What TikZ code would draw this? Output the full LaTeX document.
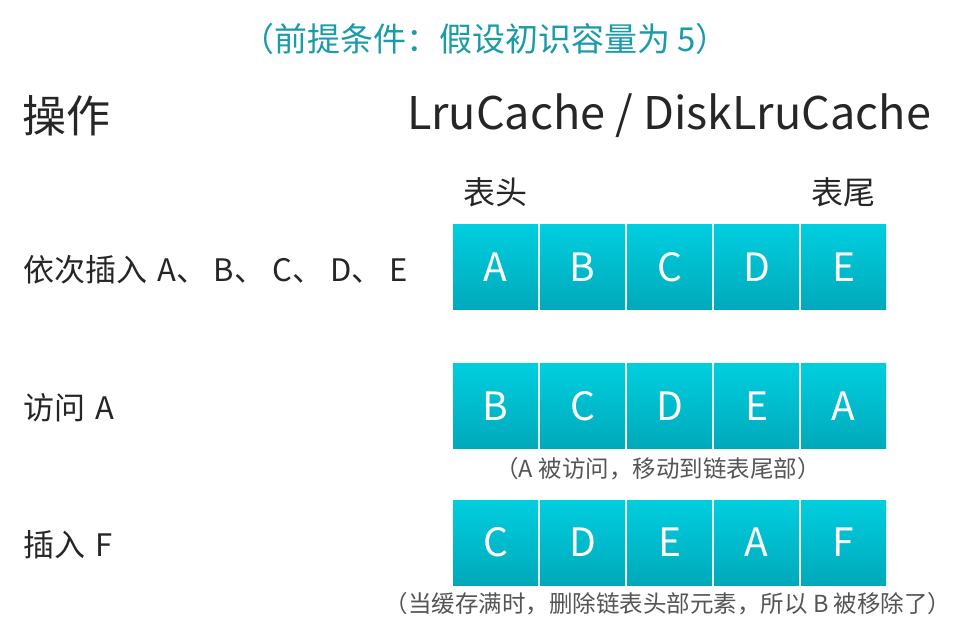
\documentclass[tikz,border=0pt]{standalone}
\usepackage{fontspec}
\setmainfont{Noto Sans CJK SC}
\usetikzlibrary{positioning}
\definecolor{titlecol}{HTML}{1A9BA8}
\definecolor{txt}{HTML}{262626}
\definecolor{cap}{HTML}{555555}
\definecolor{boxtop}{HTML}{00CEDF}
\definecolor{boxbot}{HTML}{00A9BA}
\begin{document}
\begin{tikzpicture}[x=1pt,y=-1pt,
  cell/.style={minimum width=85pt,minimum height=85pt,inner sep=0pt,top color=boxtop,bottom color=boxbot,draw=none,text=white,font=\fontsize{39}{41}\selectfont},
  lbl/.style={anchor=west,inner sep=0pt,text=txt,font=\fontsize{31}{34}\selectfont},
  capt/.style={inner sep=0pt,text=cap,font=\fontsize{23.5}{26}\selectfont}]
\useasboundingbox (0,0) rectangle (970,644);
\fill[white] (0,0) rectangle (970,644);
\node[inner sep=0pt,text=titlecol,font=\fontsize{33}{36}\selectfont] (title) at (485,39) {（前提条件：假设初识容量为 5）};
\node[lbl,font=\fontsize{44}{47}\selectfont] (op) at (22,116) {操作};
\node[inner sep=0pt,text=txt,font=\fontsize{45}{48}\selectfont] (hdr) at (669,116) {LruCache / DiskLruCache};
\node[inner sep=0pt,text=txt,font=\fontsize{32}{35}\selectfont] (head) at (495,192) {表头};
\node[inner sep=0pt,text=txt,font=\fontsize{32}{35}\selectfont] (tail) at (843,192) {表尾};
\node[lbl] (l1) at (23,270) {依次插入\hspace{10pt}A、 B、 C、 D、 E};
\node[lbl] (l2) at (23,408) {访问\hspace{10pt}A};
\node[lbl] (l3) at (23,545) {插入\hspace{10pt}F};
% row 1
\foreach \t [count=\i] in {A,B,C,D,E}{
  \node[cell] (r1c\i) at (495.5+87*\i-87,267.5) {\t};}
\foreach \t [count=\i] in {B,C,D,E,A}{
  \node[cell] (r2c\i) at (495.5+87*\i-87,406.5) {\t};}
\foreach \t [count=\i] in {C,D,E,A,F}{
  \node[cell] (r3c\i) at (495.5+87*\i-87,542.5) {\t};}
\node[capt] (c1) at (658,469) {（A 被访问，移动到链表尾部）};
\node[capt] (c2) at (668,604) {（当缓存满时，删除链表头部元素，所以 B 被移除了）};
\end{tikzpicture}
\end{document}
